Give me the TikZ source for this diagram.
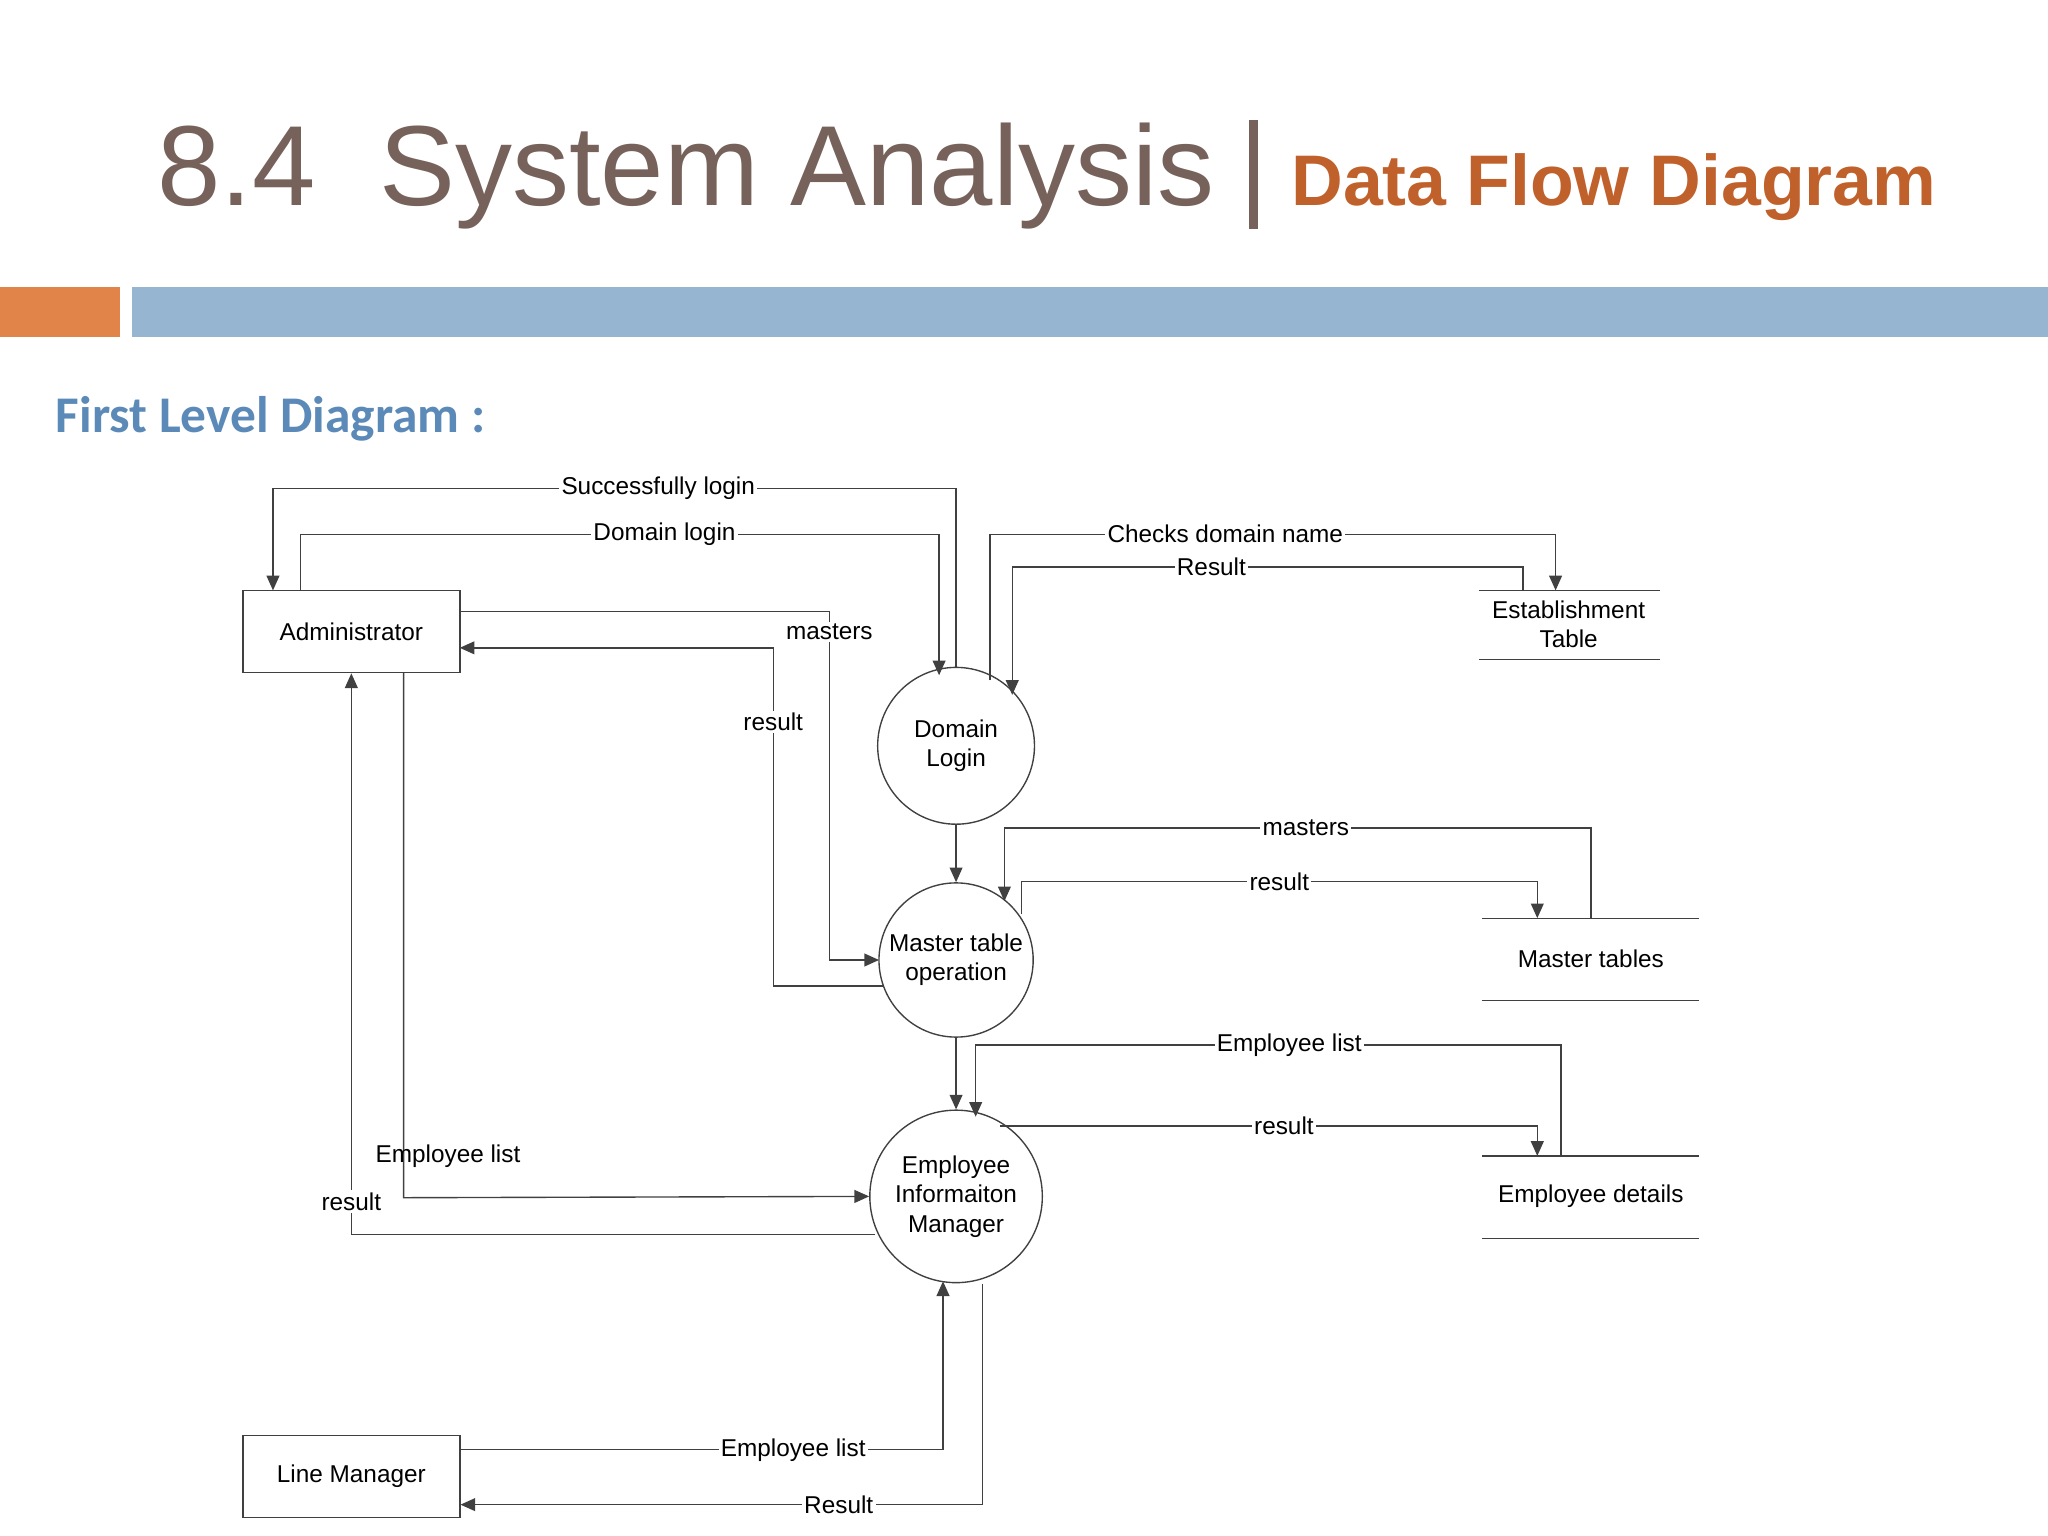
\documentclass[tikz,border=0pt]{standalone}
\usepackage{fontspec}
\setmainfont{Liberation Sans}
\newfontfamily\carlitofont{Carlito}
\usetikzlibrary{arrows.meta,calc}
\definecolor{ttl}{HTML}{76625A}
\definecolor{org}{HTML}{C0602A}
\definecolor{bar1}{HTML}{E0844A}
\definecolor{bar2}{HTML}{95B5D0}
\definecolor{fl}{HTML}{5B8AB8}
\begin{document}
\begin{tikzpicture}[x=0.01cm,y=-0.01cm,
  every node/.style={font=\fontsize{5.3}{6.4}\selectfont},
  ln/.style={line width=0.3pt,draw=black!75},
  ar/.style={ln,-{Triangle[length=3.2pt,width=2.8pt]}},
  lab/.style={fill=white,inner sep=0.5pt},
  box/.style={draw=black!75,line width=0.3pt,minimum width=1.66cm,minimum height=0.63cm},
  proc/.style={draw=black!75,line width=0.3pt,circle,align=center,inner sep=0pt}]
\useasboundingbox (0,0) rectangle (1568,1176);
\node[anchor=base west,text=ttl,font=\fontsize{24.8}{28}\selectfont,inner sep=0pt] at (120,157) {8.4\ \ System Analysis};
\fill[ttl] (956,92) rectangle (963,175);
\node[anchor=base west,text=org,font=\fontsize{15.6}{18}\selectfont\bfseries,inner sep=0pt] at (988,157) {Data Flow Diagram};
\fill[bar1] (0,220) rectangle (92,258);
\fill[bar2] (101,220) rectangle (1568,258);
\node[anchor=base west,text=fl,font=\fontsize{11.2}{13}\selectfont\carlitofont\bfseries,inner sep=0pt] at (42,331) {First Level Diagram :};
% nodes
\node[box] (adm) at (269,483.5) {Administrator};
\node[box] (lm) at (269,1130.5) {Line Manager};
\node[proc,minimum size=1.2cm] (dl) at (732,571) {Domain\\Login};
\node[proc,minimum size=1.18cm] (mto) at (732,735) {Master table\\operation};
\node[proc,minimum size=1.32cm] (eim) at (732,916) {Employee\\Informaiton\\Manager};
\node[align=center] (est) at (1201,478) {Establishment\\Table};
\draw[ln] (1132,452) -- (1271,452) (1132,505) -- (1271,505);
\node (mt) at (1218,734) {Master tables};
\draw[ln] (1135,703) -- (1301,703) (1135,766) -- (1301,766);
\node (ed) at (1218,916) {Employee details};
\draw[ln] (1135,885) -- (1301,885) (1135,948) -- (1301,948);
\coordinate (estT) at (1191,452);
\coordinate (mtT) at (1177,703);
\coordinate (edT) at (1177,885);
% connectors
\draw[ar] (dl.north) -- (732,374) -- node[lab,pos=0.436]{Successfully login} (209,374) -- (209,452);
\draw[ar] (230,452) -- (230,409) -- node[lab,pos=0.57]{Domain login} (719,409) -- (719,517);
\draw[ar] (758,521) -- (758,409) -- node[lab,pos=0.416]{Checks domain name} (1191,409) -- (estT);
\draw[ar] (1166,452) -- (1166,434) -- node[lab,pos=0.61]{Result} (775,434) -- (775,532);
\draw[ar] (352,468) -- (635,468) -- node[lab,pos=0.06]{masters} (635,735) -- (673,735);
\draw[ar] (676,755) -- (592,755) -- node[lab,pos=0.78]{result} (592,496) -- (352,496);
\draw[ar] (dl.south) -- (mto.north);
\draw[ar] (1218,703) -- (1218,634) -- node[lab,pos=0.486]{masters} (769,634) -- (769,690);
\draw[ar] (782,700) -- (782,675) -- node[lab]{result} (1177,675) -- (mtT);
\draw[ar] (mto.south) -- (eim.north);
\draw[ar] (1195,885) -- (1195,800) -- node[lab,pos=0.464]{Employee list} (747,800) -- (747,855);
\draw[ar] (766,862) -- node[lab,pos=0.528]{result} (1177,862) -- (edT);
\draw[ar] (309,515) -- (309,917) -- (eim.west);
\node at (343,885) {Employee list};
\draw[ar] (670,945) -- (269,945) -- (adm.south);
\node[lab] at (269,920) {result};
\draw[ar] (352,1110) -- node[lab,pos=0.69]{Employee list} (722,1110) -- (722,981);
\draw[ar] (752,983) -- (752,1152) -- node[lab,pos=0.275]{Result} (lm.east |- 0,1152);
\end{tikzpicture}
\end{document}
